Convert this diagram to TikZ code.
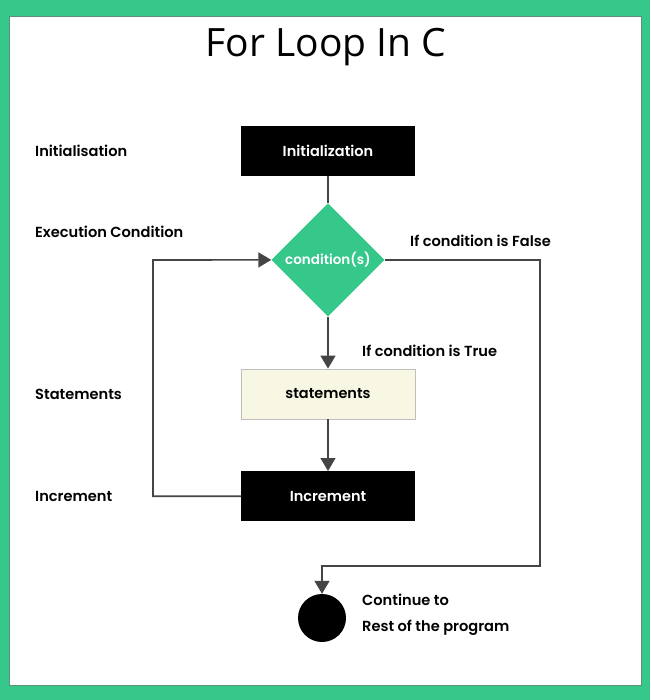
\documentclass[tikz,border=0pt]{standalone}
\usepackage{fontspec}
\setmainfont{Poppins}[BoldFont={Poppins SemiBold}]
\newfontfamily\titlefont{Open Sans}
\usetikzlibrary{arrows.meta,positioning,shapes.geometric}
\definecolor{LGreen}{HTML}{36C78B}
\definecolor{LCream}{HTML}{F7F7E4}
\definecolor{LLine}{HTML}{454545}
\definecolor{LFrame}{HTML}{5E8F78}

\begin{document}
\begin{tikzpicture}[
  x=1pt,y=-1pt,
  node distance=52pt,
  blk/.style={fill=black,minimum width=174pt,minimum height=50pt,
    text=white,font=\fontsize{14.5}{16}\selectfont\bfseries},
  stm/.style={blk,fill=LCream,draw=black!25,text=black},
  cnd/.style={diamond,fill=LGreen,minimum size=113pt,inner sep=0pt,
    text=white,font=\fontsize{13.5}{15}\selectfont\bfseries},
  lbl/.style={anchor=west,inner sep=0pt,font=\fontsize{14.6}{16}\selectfont\bfseries},
  a/.style={-{Triangle[length=13pt,width=15pt]},line width=1.6pt,color=LLine},
  l/.style={line width=1.6pt,color=LLine}
]
  \useasboundingbox (0,0) rectangle (650,700);
  \fill[LGreen] (0,0) rectangle (650,700);
  \filldraw[fill=white,draw=LFrame,line width=0.8pt] (9,16) rectangle (641,685);
  \node[font=\titlefont\fontsize{39}{44}\selectfont] (title) at (326,47) {For Loop In C};

  % flow
  \node[blk] (init) at (328,151) {Initialization};
  \node[cnd,below=27pt of init] (cond) {condition(s)};
  \node[stm,below=of cond] (stmt) {statements};
  \node[blk,below=of stmt] (incr) {Increment};
  \node[circle,fill=black,minimum size=48pt,inner sep=0pt] (stop) at (322,618) {};

  % labels on the left
  \node[lbl] (lInit) at (35,151) {Initialisation};
  \node[lbl] (lCond) at (35,232) {Execution Condition};
  \node[lbl] (lStmt) at (35,394) {Statements};
  \node[lbl] (lIncr) at (35,496) {Increment};

  \node[lbl] (lFalse) at (410,241) {If condition is False};
  \node[lbl] (lTrue) at (362,351) {If condition is True};
  \node[lbl] (lCont) at (362,600) {Continue to};
  \node[lbl] (lRest) at (362,628) {Rest of the program};

  \draw[l] (init) -- (cond);
  \draw[a] (cond) -- (stmt);
  \draw[a] (stmt) -- (incr);
  \coordinate (back) at (153,260);
  \draw[a] (incr.west) -| (back) -- (cond.west);
  \coordinate (falseR) at (540,566);
  \draw[a] (cond.east) -| (falseR) -| (stop.north);
\end{tikzpicture}
\end{document}
